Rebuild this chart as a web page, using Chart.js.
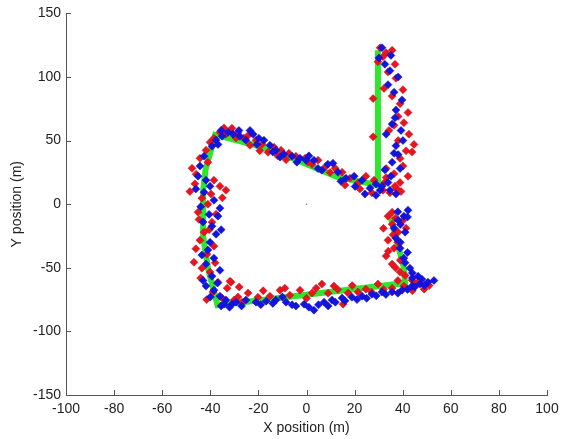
<!DOCTYPE html>
<html>
<head>
<meta charset="utf-8">
<script src="https://cdn.jsdelivr.net/npm/chart.js@4"></script>
<style>
  html, body { margin: 0; padding: 0; background: #fff; }
  #wrap { width: 562px; height: 439px; }
</style>
</head>
<body>
<div id="wrap"><canvas id="posChart" width="562" height="439"></canvas></div>
<script>
// ground truth path (green)
const truePath = [
  [29.7, 121], [29.7, 15], [12.7, 21.5], [-6.9, 36.9], [-18.1, 44.8], [-38, 54.5],
  [-42, 27], [-43, 10], [-43, -25], [-41, -50], [-37, -79.5], [41, -62],
  [40.5, -50], [35, -10]
];

// estimate A (red)
const redPoints = [
  [30.6, 123], [33.1, 119], [35.6, 121], [29.7, 112], [33.9, 104], [37.2, 99],
  [32.2, 91], [27.7, 83], [35.6, 85], [38.9, 79], [38.1, 69], [40.5, 64],
  [34.3, 58], [27.7, 53], [38.1, 50], [41.4, 42], [38.9, 36], [43.9, 41],
  [33.1, 28], [36.4, 24], [38.9, 17], [34.7, 9], [31.8, 11],
  [31.8, 116], [36.8, 110], [40.1, 90], [42.2, 72], [36.4, 62], [42.6, 55],
  [44.7, 47], [40.1, 30], [42.2, 22], [37.6, 12], [33.1, 21],
  [36.8, 14.1], [32.6, 17.3], [28.1, 18.9], [24.7, 22.0], [21.4, 16.5], [18.1, 20.4],
  [14.8, 25.1], [11.9, 28.3], [8.1, 29.9], [4.8, 34.6], [2.3, 31.4], [-0.6, 36.1],
  [-4.4, 37.7], [-7.3, 40.1], [-10.6, 42.4], [-13.5, 44.8], [-16.0, 40.8], [-18.5, 47.1],
  [-21.0, 50.3], [-23.5, 46.3], [-26.0, 51.8], [-28.5, 56.6], [-31.0, 59.7], [-33.5, 55.0],
  [-36.0, 56.6], [-38.5, 51.8],
  [39.3, 10], [27.2, 9], [22.2, 12], [16.0, 15], [9.8, 25], [0.6, 33],
  [-8.5, 35], [-12.0, 38], [-19.4, 42], [-24.3, 54], [-29.3, 52], [-34.3, 60],
  [-40.1, 48.7], [-41.8, 42.4], [-44.3, 36.1], [-41.0, 33.0], [-47.6, 28.3], [-45.9, 23.6],
  [-38.5, 18.9], [-36.0, 14.1], [-33.5, 11.0], [-43.5, 4.7], [-41.0, 0], [-45.1, -6.3],
  [-37.6, -7.9], [-39.3, -14.1], [-42.6, -22.0], [-44.3, -28.3], [-38.5, -33.0], [-41.4, -39.3],
  [-46.8, -45.6], [-43.5, -50.3], [-40.1, -53.4], [-36.8, -61.3], [-31.4, -61.3], [-38.9, -69.1],
  [-35.1, -73.8], [-30.1, -75.4], [-26.8, -77.0],
  [-46.4, 16], [-48.5, 10], [-39.7, 8], [-35.0, 5], [-44.7, -12], [-40.5, -20],
  [-46.0, -35], [-38.0, -46], [-44.0, -58], [-33.0, -66], [-41.5, -75], [-28.5, -73],
  [-31.8, -60.5], [-24.3, -69.9], [-20.2, -73.1], [-15.2, -72.3], [-11.0, -67.6], [-6.9, -71.5],
  [-2.7, -67.6], [2.3, -69.9], [6.4, -62.8], [11.4, -64.4], [15.2, -78.6], [17.3, -69.9],
  [21.4, -69.1], [24.7, -66.8], [29.7, -62.8], [35.6, -66.0], [40.5, -64.4], [45.5, -62.8],
  [48.9, -66.8],
  [-28, -65], [-18, -68], [-9, -66], [0, -74], [4, -66], [9, -70], [13, -67],
  [19, -64], [27, -69], [32, -67], [38, -60], [44, -68], [51, -64],
  [43.9, -59.7], [38.9, -53.4], [35.6, -47.1], [33.1, -40.8], [36.4, -34.6], [33.9, -28.3],
  [38.1, -22.0], [41.4, -18.9], [35.6, -15.7], [33.9, -9.4], [35.6, -6.3],
  [46, -62], [41, -56], [37, -50], [39, -44], [34, -37], [38, -30],
  [36, -24], [40, -13], [37, -11], [32, -19]
];

// estimate B (blue)
const bluePoints = [
  [31.4, 123], [30.1, 115], [32.6, 110], [34.7, 105], [33.9, 94], [36.4, 88],
  [37.2, 74], [35.6, 63], [33.1, 55], [37.2, 46], [38.1, 39], [35.6, 33],
  [32.6, 27], [33.9, 17], [30.6, 11], [28.9, 7],
  [35.1, 117], [38.1, 100], [39.7, 82], [36.8, 68], [39.3, 58], [40.1, 50],
  [36.4, 40], [38.9, 28], [35.1, 22], [37.2, 8],
  [34.7, 11.0], [31.4, 14.1], [28.9, 15.7], [26.4, 12.6], [23.1, 18.9], [19.8, 22.0],
  [16.4, 20.4], [13.1, 25.1], [11.0, 32.2], [8.9, 31.4], [6.4, 26.7], [3.1, 34.6],
  [-0.2, 34.6], [-2.7, 36.1], [-6.0, 37.7], [-9.4, 39.3], [-12.7, 42.4], [-15.2, 46.3],
  [-17.7, 50.3], [-19.8, 51.8], [-22.2, 55.0], [-25.2, 50.3], [-27.7, 53.4], [-30.6, 55.0],
  [-32.6, 56.6], [-35.1, 53.4], [-37.6, 50.3],
  [24.3, 8], [20.2, 14], [14.3, 18], [4.8, 28], [1.0, 38], [-4.0, 33],
  [-11.0, 37], [-14.0, 41], [-20.6, 47], [-23.5, 58], [-28.1, 58], [-35.5, 58], [-36.8, 47],
  [-39.3, 45.6], [-42.6, 37.7], [-45.1, 22.0], [-41.8, 18.9], [-40.1, 14.1], [-42.6, 9.4],
  [-38.5, 3.1], [-36.0, -3.1], [-36.8, -9.4], [-39.3, -17.3], [-37.6, -23.6], [-40.1, -29.9],
  [-41.0, -36.1], [-38.5, -42.4], [-41.8, -47.1], [-39.3, -56.6], [-41.8, -64.4], [-38.5, -67.6],
  [-36.0, -72.3], [-33.5, -75.4], [-31.0, -78.6],
  [-44.3, 30], [-46.0, 12], [-44.0, -2], [-40.5, -8], [-43.0, -14], [-35.5, -20],
  [-43.5, -40], [-36.0, -52], [-43.0, -60], [-37.0, -62], [-40.0, -73], [-35.5, -80],
  [-34.3, -78.6], [-29.3, -77.0], [-25.2, -75.4], [-21.0, -77.0], [-16.8, -76.2], [-12.7, -75.4],
  [-8.5, -77.0], [-4.4, -80.1], [-1.0, -78.6], [3.1, -83.3], [7.3, -77.0], [10.6, -75.4],
  [14.8, -73.8], [18.9, -73.1], [23.1, -72.3], [27.2, -70.7], [31.4, -69.1], [35.6, -69.1],
  [39.7, -67.6], [43.9, -64.4], [47.2, -62.8], [50.5, -61.3],
  [-32, -81], [-27, -80], [-19, -79], [-14, -78], [-10, -73], [-6, -79], [1, -81],
  [5, -79], [9, -80], [12, -77], [16, -76], [21, -75], [25, -74], [29, -72],
  [33, -71], [38, -70], [42, -67], [45, -65], [49, -64], [53, -60],
  [46.4, -56.6], [43.0, -50.3], [40.5, -42.4], [38.9, -34.6], [37.2, -26.7], [36.4, -18.9],
  [38.1, -12.6], [40.5, -9.4], [42.2, -4.7],
  [44, -54], [48, -59], [41, -46], [42, -38], [39, -30], [41, -22],
  [39, -16], [38, -6], [42, -10], [44, -58]
];

const originPoint = [[0, 0]];

const xRange = [-100, 100];
const yRange = [-150, 150];
const xStep = 20;
const yStep = 50;

const toXY = arr => arr.map(p => ({ x: p[0], y: p[1] }));

const axisColor = '#555';
const textColor = '#222';
const fontFamily = '"Liberation Sans", Arial, sans-serif';

// MATLAB style ticks pointing into the plot
const innerTicks = {
  id: 'innerTicks',
  afterDraw(chart) {
    const ctx = chart.ctx;
    const xs = chart.scales.x;
    const ys = chart.scales.y;
    const len = 5;
    ctx.save();
    ctx.strokeStyle = axisColor;
    ctx.lineWidth = 1;
    ctx.beginPath();
    xs.ticks.forEach(t => {
      const px = Math.round(xs.getPixelForValue(t.value)) + 0.5;
      ctx.moveTo(px, ys.bottom);
      ctx.lineTo(px, ys.bottom - len);
    });
    ys.ticks.forEach(t => {
      const py = Math.round(ys.getPixelForValue(t.value)) + 0.5;
      ctx.moveTo(xs.left, py);
      ctx.lineTo(xs.left + len, py);
    });
    ctx.stroke();
    ctx.restore();
  }
};

const ctx = document.getElementById('posChart').getContext('2d');
const posChart = new Chart(ctx, {
  type: 'scatter',
  data: {
    datasets: [{
      label: 'Ground truth',
      data: toXY(truePath),
      showLine: true,
      borderColor: '#2ee62e',
      borderWidth: 6,
      pointRadius: 0,
      fill: false,
      order: 3
    }, {
      label: 'Estimate A',
      data: toXY(redPoints),
      pointStyle: 'rectRot',
      pointRadius: 4,
      backgroundColor: '#e8141e',
      borderColor: '#c8101a',
      borderWidth: 0.5,
      order: 2
    }, {
      label: 'Estimate B',
      data: toXY(bluePoints),
      pointStyle: 'rectRot',
      pointRadius: 4,
      backgroundColor: '#1414e0',
      borderColor: '#0a0ab4',
      borderWidth: 0.5,
      order: 1
    }, {
      label: 'Origin',
      data: toXY(originPoint),
      pointRadius: 0.8,
      backgroundColor: '#888',
      borderWidth: 0,
      order: 0
    }]
  },
  options: {
    responsive: false,
    animation: false,
    layout: { padding: { left: 0, top: 13, right: 15, bottom: 0 } },
    plugins: {
      legend: { display: false },
      tooltip: { enabled: false }
    },
    scales: {
      x: {
        type: 'linear',
        min: xRange[0],
        max: xRange[1],
        grid: { display: false, drawTicks: false },
        border: { display: true, color: axisColor, width: 1 },
        ticks: {
          stepSize: xStep,
          autoSkip: false,
          maxRotation: 0,
          padding: 3,
          color: textColor,
          font: { family: fontFamily, size: 14, lineHeight: 1.6 }
        },
        title: {
          display: true,
          text: 'X position (m)',
          color: textColor,
          font: { family: fontFamily, size: 14 },
          padding: { top: 0, bottom: 2 }
        },
        afterFit(scale) { scale.height = 44; }
      },
      y: {
        type: 'linear',
        min: yRange[0],
        max: yRange[1],
        grid: { display: false, drawTicks: false },
        border: { display: true, color: axisColor, width: 1 },
        ticks: {
          stepSize: yStep,
          autoSkip: false,
          padding: 5,
          color: textColor,
          font: { family: fontFamily, size: 14 }
        },
        title: {
          display: true,
          text: 'Y position (m)',
          color: textColor,
          font: { family: fontFamily, size: 14 },
          padding: { top: 9, bottom: 0 }
        },
        afterFit(scale) { scale.width = 66; }
      }
    }
  },
  plugins: [innerTicks]
});
</script>
</body>
</html>
